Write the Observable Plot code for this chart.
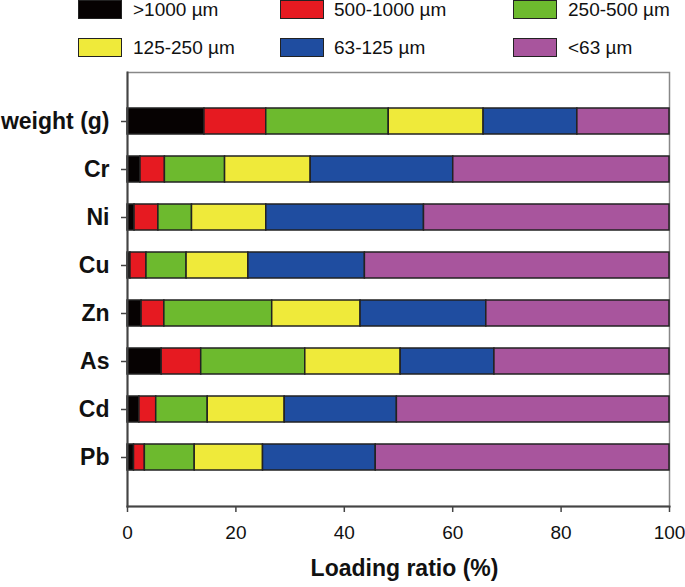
<!DOCTYPE html>
<html><head><meta charset="utf-8">
<script src="https://cdn.jsdelivr.net/npm/d3@7"></script>
<script src="https://cdn.jsdelivr.net/npm/@observablehq/plot@0.6"></script>
<style>
body{margin:0;background:#fff;font-family:"Liberation Sans",Arial,sans-serif;}
#legend{position:relative;width:685px;height:60px;overflow:hidden;}
.sw{position:absolute;width:44px;height:19px;box-sizing:border-box;border:1.6px solid #222;}
.lb{position:absolute;font-size:19px;line-height:20px;color:#111;white-space:nowrap;}
#chart svg{display:block;}
</style></head><body>
<div id="legend"></div>
<div id="chart"></div>
<script>
const categories = ["weight (g)", "Cr", "Ni", "Cu", "Zn", "As", "Cd", "Pb"];
const sizeClasses = [">1000 µm", "500-1000 µm", "250-500 µm", "125-250 µm", "63-125 µm", "<63 µm"];
const classColors = ["#060202", "#e61a21", "#6dba2e", "#efea3a", "#1f4da0", "#a8559d"];
// loading ratio (%) per size class, in sizeClasses order
const weightVals = [14.2, 11.4, 22.6, 17.5, 17.3, 17.0];
const crVals = [2.4, 4.5, 11.1, 15.8, 26.3, 39.9];
const niVals = [1.3, 4.4, 6.2, 13.7, 29.1, 45.3];
const cuVals = [0.55, 2.95, 7.4, 11.4, 21.5, 56.2];
const znVals = [2.6, 4.2, 19.9, 16.3, 23.2, 33.8];
const asVals = [6.3, 7.3, 19.2, 17.6, 17.3, 32.3];
const cdVals = [2.2, 3.1, 9.5, 14.2, 20.7, 50.3];
const pbVals = [1.2, 2.0, 9.2, 12.6, 20.8, 54.2];
const xTicks = [0, 20, 40, 60, 80, 100];
const xLabel = "Loading ratio (%)";

const series = [weightVals, crVals, niVals, cuVals, znVals, asVals, cdVals, pbVals];
const rows = [];
categories.forEach((c, i) => {
  series[i].forEach((v, j) => rows.push({cat: c, cls: sizeClasses[j], value: v}));
});

// legend
const legend = document.getElementById("legend");
const swLeft = [78, 280, 513], txLeft = [133, 334, 568], rowTop = [0, 38];
sizeClasses.forEach((s, i) => {
  const r = Math.floor(i / 3), c = i % 3;
  const sw = document.createElement("div");
  sw.className = "sw";
  sw.style.left = swLeft[c] + "px";
  sw.style.top = rowTop[r] + "px";
  sw.style.background = classColors[i];
  legend.appendChild(sw);
  const lb = document.createElement("div");
  lb.className = "lb";
  lb.style.left = txLeft[c] + "px";
  lb.style.top = (rowTop[r] - 0.5) + "px";
  lb.textContent = s;
  legend.appendChild(lb);
});

const chart = Plot.plot({
  width: 685,
  height: 527,
  marginTop: 12,
  marginBottom: 81,
  marginLeft: 127,
  marginRight: 16,
  style: {fontFamily: "'Liberation Sans', Arial, sans-serif", color: "#111", background: "#fff"},
  x: {domain: [0, 100], label: null},
  y: {domain: categories, paddingInner: 0.46, paddingOuter: 0.72, label: null},
  color: {domain: sizeClasses, range: classColors},
  marks: [
    Plot.frame({stroke: "#888", strokeWidth: 1.5}),
    Plot.barX(rows, Plot.stackX({x: "value", y: "cat", fill: "cls", stroke: "#222", strokeWidth: 1.5})),
    Plot.frame({anchor: "left", stroke: "#444", strokeWidth: 2}),
    Plot.frame({anchor: "bottom", stroke: "#444", strokeWidth: 2}),
    Plot.axisY({tickSize: 6, tickPadding: 12, fontSize: 23, fontWeight: "bold", fill: "#111", stroke: "#444", strokeWidth: 1.5, label: null}),
    Plot.axisX({ticks: xTicks, tickSize: 6, tickPadding: 13, fontSize: 19, fill: "#111", stroke: "#444", strokeWidth: 1.5, label: null}),
    Plot.text([xLabel], {frameAnchor: "bottom", dy: 69, dx: 6, fontSize: 23, fontWeight: "bold", fill: "#111"})
  ]
});
document.getElementById("chart").appendChild(chart);
</script>
</body></html>
